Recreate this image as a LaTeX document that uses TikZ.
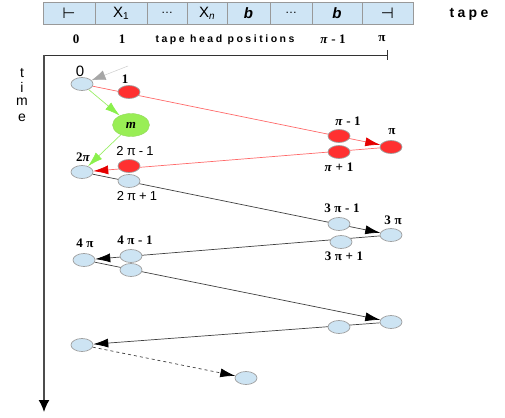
\documentclass[tikz,border=0pt]{standalone}
\usepackage{fontspec}
\setmainfont{Liberation Sans}
\newfontfamily\sps[LetterSpace=24]{Liberation Sans}
\newfontfamily\tms[LetterSpace=28]{Liberation Serif}
\newfontfamily\djv{DejaVu Sans}
\usetikzlibrary{arrows.meta,shapes.geometric,backgrounds}
\definecolor{nodeblue}{HTML}{CDE4F3}
\definecolor{tapeblue}{HTML}{CFE5F5}
\definecolor{nodered}{HTML}{FF3030}
\definecolor{edgered}{HTML}{FF6A6A}
\definecolor{mgreen}{HTML}{99EE55}
\definecolor{egreen}{HTML}{99EE66}
\begin{document}
\begin{tikzpicture}[x=1pt,y=-1pt,
  cell/.style={draw=gray!80, fill=tapeblue, minimum height=22pt, inner sep=0pt, font=\fontsize{15}{15}\selectfont},
  bnode/.style={ellipse, draw=gray!75, line width=0.7pt, fill=nodeblue, minimum width=22pt, minimum height=13pt, inner sep=0pt},
  rnode/.style={ellipse, draw=gray!75, line width=0.7pt, fill=nodered, minimum width=22pt, minimum height=13pt, inner sep=0pt},
  lab/.style={inner sep=0pt, font=\fontsize{13}{13}\selectfont\sps},
  tlab/.style={inner sep=0pt, font=\fontsize{13}{13}\selectfont\tms\bfseries},
  bedge/.style={draw=black!75, line width=0.7pt, -{Latex[length=15pt,width=9pt,color=black]}},
  redge/.style={draw=edgered, line width=0.7pt, -{Latex[length=15pt,width=9pt,color=red!90!black]}},
  gedge/.style={draw=egreen, line width=0.7pt, -{Latex[length=15pt,width=9pt,color=mgreen!90!green]}}
]
\useasboundingbox (0,0) rectangle (505,417);
% tape
\node[cell, minimum width=52pt] (c1) at (69,13) {\djv ⊢};
\node[cell, minimum width=52pt] (c2) at (121,13) {X\raisebox{-2pt}{\fontsize{10}{10}\selectfont 1}};
\node[cell, minimum width=40pt] (c3) at (167,13) {\fontsize{12}{12}\selectfont …};
\node[cell, minimum width=40pt] (c4) at (207,13) {X\raisebox{-2pt}{\fontsize{10}{10}\selectfont\itshape n}};
\node[cell, minimum width=43pt] (c5) at (248.5,13) {\bfseries\itshape b};
\node[cell, minimum width=42pt] (c6) at (291,13) {\fontsize{12}{12}\selectfont …};
\node[cell, minimum width=50pt] (c7) at (337,13) {\bfseries\itshape b};
\node[cell, minimum width=51pt] (c8) at (387.5,13) {\djv ⊣};
\node[lab, font=\fontsize{14}{14}\selectfont\sps\bfseries] (tape) at (469,14) {tape};
% positions
\node[tlab] (p0) at (76,39) {0};
\node[tlab] (p1) at (122,39) {1};
\node[lab, font=\fontsize{10.5}{10.5}\selectfont\sps\bfseries] (pt) at (225,40) {tape head positions};
\node[tlab] (pn1) at (333,39) {\textit{π}-1};
\node[tlab] (pn) at (382,39) {π};
% axes
\coordinate (o) at (44,55);
\coordinate (hx) at (388,55);
\coordinate (vy) at (44,412);
\draw[line width=0.8pt, draw=black!80, -{Bar[width=10pt]}] (o) -- (hx);
\draw[line width=1.4pt, draw=black!70, -{Latex[length=12pt,width=11pt,color=black]}] (o) -- (vy);
\node[lab, font=\fontsize{14}{14}\selectfont] (t1) at (22,73) {t};
\node[lab, font=\fontsize{14}{14}\selectfont] (t2) at (22,87) {i};
\node[lab, font=\fontsize{14}{14}\selectfont] (t3) at (22,102) {m};
\node[lab, font=\fontsize{14}{14}\selectfont] (t4) at (22,118) {e};
% nodes
\node[bnode] (n0) at (82,84) {};
\node[rnode] (n1) at (129,92) {};
\node[ellipse, draw=mgreen!80!gray, fill=mgreen, minimum width=37pt, minimum height=23pt, inner sep=0pt] (m) at (131,125) {\fontsize{13}{13}\selectfont\tms\bfseries\itshape m};
\node[rnode] (npm) at (339,136) {};
\node[rnode] (np) at (391,147) {};
\node[rnode] (npp) at (339,152) {};
\node[rnode] (n2m) at (129,166) {};
\node[bnode] (n2) at (82,172) {};
\node[bnode] (n2p) at (129,181) {};
\node[bnode] (n3m) at (339,224) {};
\node[bnode] (n3) at (391,235) {};
\node[bnode] (n3p) at (341,242) {};
\node[bnode] (n4m) at (131,256) {};
\node[bnode] (n4) at (84,260) {};
\node[bnode] (n4p) at (131,270) {};
\node[bnode] (n5) at (391,322) {};
\node[bnode] (n5p) at (339,327) {};
\node[bnode] (n6) at (82,345) {};
\node[bnode] (n7) at (246,378) {};
\coordinate (gs) at (128,66);
% labels
\node[lab, font=\fontsize{15}{15}\selectfont] (l0) at (80,71) {0};
\node[tlab] (l1) at (125,79) {1};
\node[tlab] (l2) at (85,157) {2\textit{π}};
\node[lab] (l2m) at (135,151) {2π-1};
\node[lab] (l2p) at (137,196) {2π+1};
\node[tlab] (lpm) at (348,121) {\textit{π}-1};
\node[tlab] (lp) at (392,132) {π};
\node[tlab] (lpp) at (339,167) {\textit{π}+1};
\node[tlab] (l3m) at (342,208) {3π-1};
\node[tlab] (l3) at (393,220) {3π};
\node[tlab] (l3p) at (344,256) {3π+1};
\node[tlab] (l4) at (85,243) {4π};
\node[tlab] (l4m) at (135,240) {4π-1};
% edges
\begin{scope}[on background layer]
\draw[draw=gray!40, line width=0.5pt, -{Latex[length=14pt,width=10pt,color=gray!70]}] (gs) -- (n0);
\draw[redge] (n0) -- (np);
\draw[redge] (np) -- (n2);
\draw[gedge] (n0) -- (m);
\draw[gedge] (m) -- (n2);
\draw[bedge] (n2) -- (n3);
\draw[bedge] (n3) -- (n4);
\draw[bedge] (n4) -- (n5);
\draw[bedge] (n5) -- (n6);
\draw[bedge, dashed] (n6) -- (n7);
\end{scope}
\end{tikzpicture}
\end{document}
